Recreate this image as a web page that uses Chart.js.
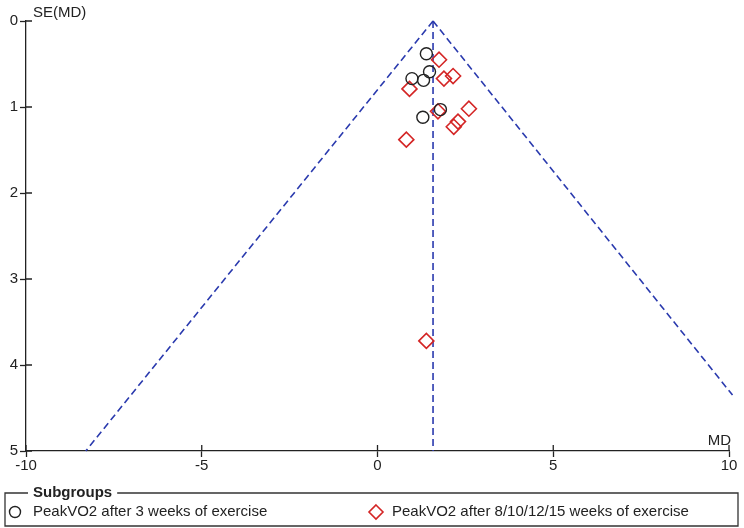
<!DOCTYPE html>
<html>
<head>
<meta charset="utf-8">
<script src="https://cdn.jsdelivr.net/npm/chart.js@4"></script>
<style>
  html, body { margin: 0; padding: 0; background: #fff; }
  #wrap { width: 744px; height: 528px; }
</style>
</head>
<body>
<div id="wrap"><canvas id="funnel" width="744" height="528"></canvas></div>
<script>
// ===== data =====
const weeks3MD = [1.39, 1.48, 1.31, 0.98, 1.79, 1.29];
const weeks3SE = [0.38, 0.59, 0.69, 0.67, 1.03, 1.12];

const weeksLongMD = [1.75, 1.89, 2.15, 0.91, 1.72, 2.60, 2.29, 2.17, 0.82, 1.39];
const weeksLongSE = [0.45, 0.67, 0.64, 0.79, 1.05, 1.02, 1.17, 1.23, 1.38, 3.72];

// pooled estimate and the funnel edges (end points)
const pooledMD = 1.58;
const funnelLeftMD = [1.58, -8.3];
const funnelLeftSE = [0, 5];
const funnelRightMD = [1.58, 10.1];
const funnelRightSE = [0, 4.35];
const pooledSE = [0, 5];

const xTicks = [-10, -5, 0, 5, 10];
const yTicks = [0, 1, 2, 3, 4, 5];

const legendLabels = ["PeakVO2 after 3 weeks of exercise", "PeakVO2 after 8/10/12/15 weeks of exercise"];

const BLUE = "#2a3aae";
const RED = "#d42525";
const INK = "#222";
const FONT = "'Liberation Sans', Arial, sans-serif";

const toPoints = (xs, ys) => xs.map((x, i) => ({ x: x, y: ys[i] }));

/* ================= extra drawing ================= */

const decorations = {
  id: "decorations",
  afterDraw(chart) {
    const ctx = chart.ctx;
    const xs = chart.scales.x;
    const ys = chart.scales.y;
    const area = chart.chartArea;

    // inner half of the crossing ticks
    ctx.save();
    ctx.strokeStyle = INK;
    ctx.lineWidth = 1.3;
    ctx.beginPath();
    xTicks.forEach(v => {
      const px = xs.getPixelForValue(v);
      ctx.moveTo(px, area.bottom);
      ctx.lineTo(px, area.bottom - 6);
    });
    yTicks.forEach(v => {
      const py = ys.getPixelForValue(v);
      ctx.moveTo(area.left, py);
      ctx.lineTo(area.left + 6, py);
    });
    ctx.stroke();

    // axis titles
    ctx.fillStyle = INK;
    ctx.font = "15px " + FONT;
    ctx.textBaseline = "middle";
    ctx.textAlign = "left";
    ctx.fillText("SE(MD)", 33, 13);
    ctx.textAlign = "right";
    ctx.fillText("MD", area.right + 2, area.bottom - 10);

    // legend box
    const bx = 5, by = 493, bw = 733, bh = 33;
    ctx.strokeStyle = "#333";
    ctx.lineWidth = 1.3;
    ctx.font = "bold 15px " + FONT;
    const tw = ctx.measureText("Subgroups").width;
    ctx.beginPath();
    ctx.moveTo(28, by);
    ctx.lineTo(bx, by);
    ctx.lineTo(bx, by + bh);
    ctx.lineTo(bx + bw, by + bh);
    ctx.lineTo(bx + bw, by);
    ctx.lineTo(33 + tw + 5, by);
    ctx.stroke();
    ctx.textAlign = "left";
    ctx.fillStyle = INK;
    ctx.fillText("Subgroups", 33, by);

    const iy = 512;
    ctx.font = "15px " + FONT;
    // circle symbol
    ctx.strokeStyle = INK;
    ctx.lineWidth = 1.4;
    ctx.beginPath();
    ctx.arc(15, iy, 5.5, 0, Math.PI * 2);
    ctx.stroke();
    ctx.fillText(legendLabels[0], 33, iy);
    // diamond symbol
    ctx.strokeStyle = RED;
    ctx.lineWidth = 1.6;
    ctx.beginPath();
    ctx.moveTo(376, iy - 7);
    ctx.lineTo(383, iy);
    ctx.lineTo(376, iy + 7);
    ctx.lineTo(369, iy);
    ctx.closePath();
    ctx.stroke();
    ctx.fillText(legendLabels[1], 392, iy);
    ctx.restore();
  }
};

/* ================= chart ================= */

const lineSet = (data) => ({
  type: "line",
  data: data,
  borderColor: BLUE,
  borderWidth: 1.6,
  borderDash: [7, 4],
  pointRadius: 0,
  fill: false,
  clip: false,
  order: 2
});

new Chart(document.getElementById("funnel"), {
  type: "scatter",
  data: {
    datasets: [
      lineSet(toPoints(funnelLeftMD, funnelLeftSE)),
      lineSet(toPoints(funnelRightMD, funnelRightSE)),
      lineSet(toPoints([pooledMD, pooledMD], pooledSE)),
      {
        label: legendLabels[0],
        data: toPoints(weeks3MD, weeks3SE),
        pointStyle: "circle",
        pointRadius: 6,
        pointHoverRadius: 6,
        borderColor: INK,
        borderWidth: 1.4,
        backgroundColor: "transparent",
        order: 1
      },
      {
        label: legendLabels[1],
        data: toPoints(weeksLongMD, weeksLongSE),
        pointStyle: "rectRot",
        pointRadius: 7.5,
        pointHoverRadius: 7.5,
        borderColor: RED,
        borderWidth: 1.6,
        backgroundColor: "transparent",
        order: 1
      }
    ]
  },
  options: {
    responsive: false,
    animation: false,
    events: [],
    layout: { padding: { top: 21, right: 15, left: 0, bottom: 0 } },
    plugins: {
      legend: { display: false },
      tooltip: { enabled: false }
    },
    scales: {
      x: {
        type: "linear",
        min: -10,
        max: 10,
        afterBuildTicks: s => { s.ticks = xTicks.map(v => ({ value: v })); },
        afterFit: s => { s.height = 77; },
        grid: { drawOnChartArea: false, tickLength: 6, color: INK, tickWidth: 1.3 },
        border: { color: INK, width: 1.3 },
        ticks: { color: INK, font: { family: FONT, size: 15 }, padding: 0, maxRotation: 0 }
      },
      y: {
        type: "linear",
        reverse: true,
        min: 0,
        max: 5,
        afterBuildTicks: s => { s.ticks = yTicks.map(v => ({ value: v })); },
        afterFit: s => { s.width = 26; },
        grid: { drawOnChartArea: false, tickLength: 6, color: INK, tickWidth: 1.3 },
        border: { color: INK, width: 1.3 },
        ticks: { color: INK, font: { family: FONT, size: 15 }, padding: 2 }
      }
    }
  },
  plugins: [decorations]
});
</script>
</body>
</html>
